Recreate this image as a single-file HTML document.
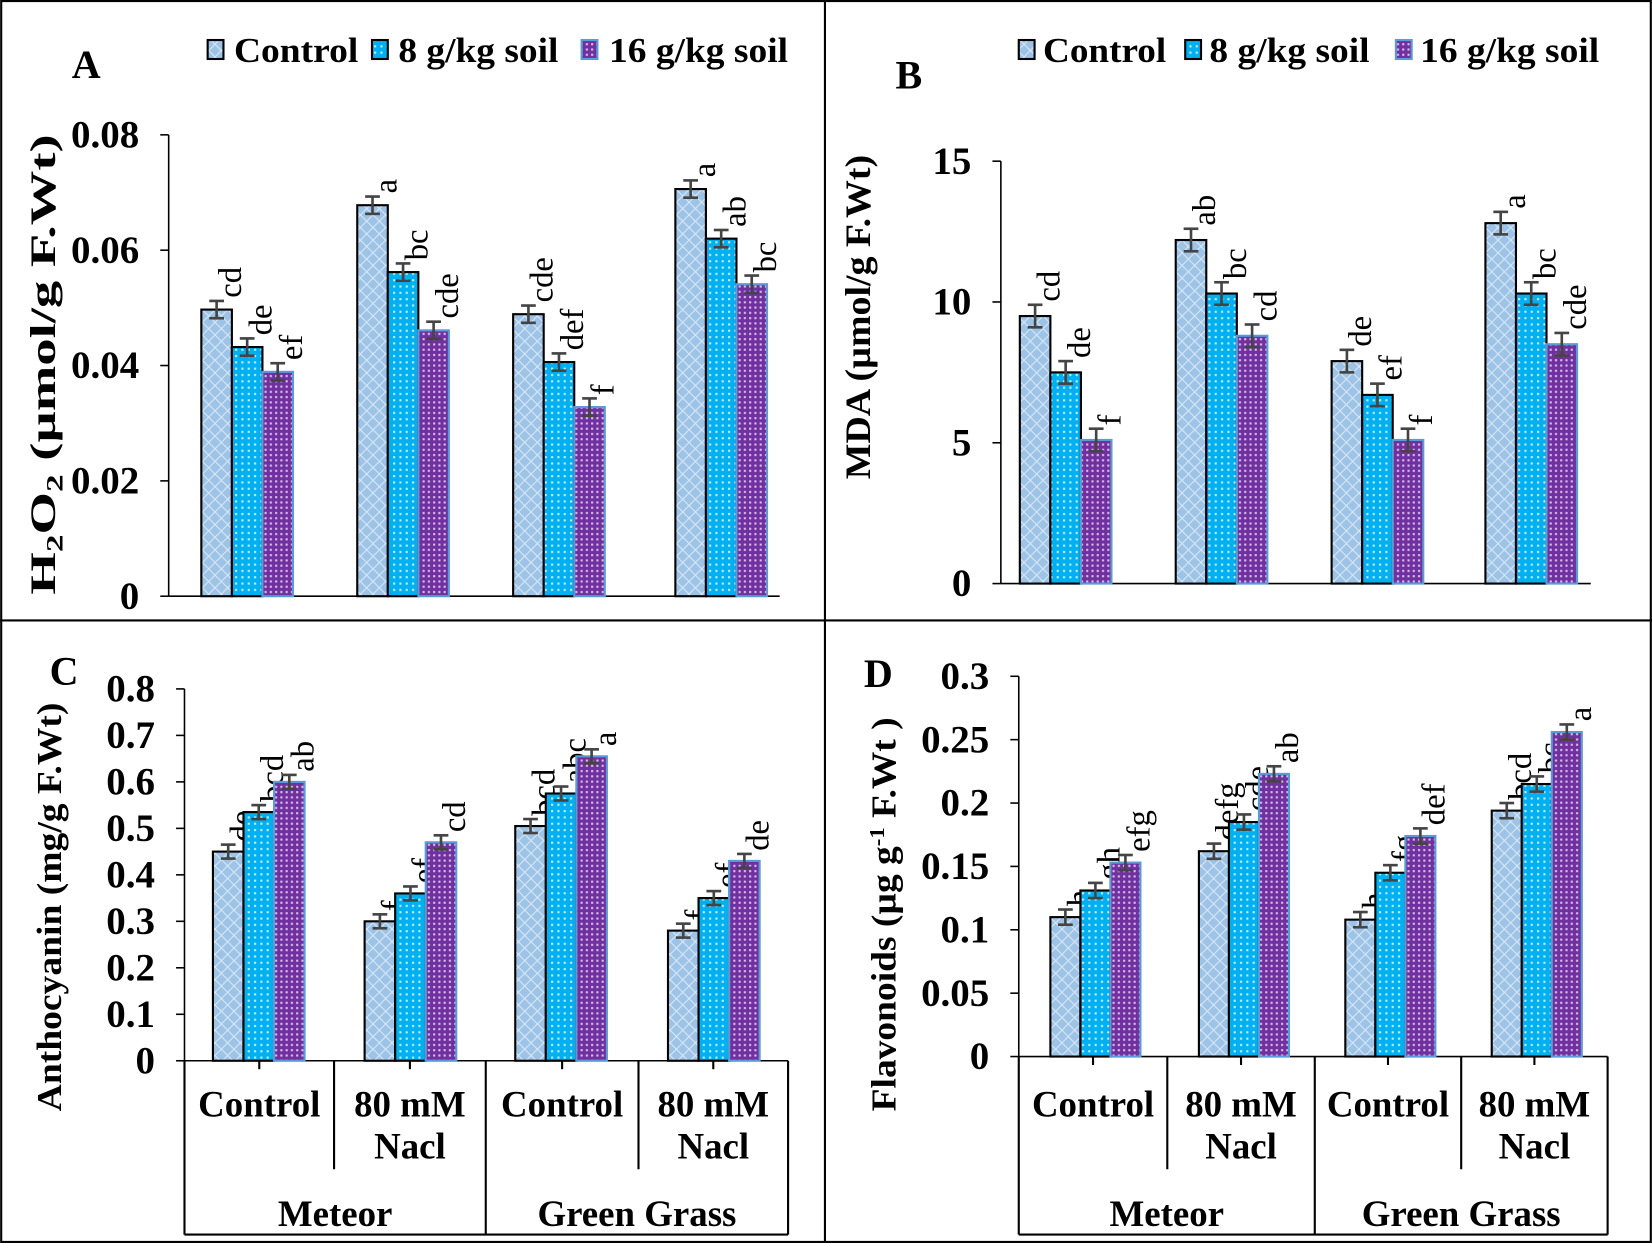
<!DOCTYPE html>
<html><head><meta charset="utf-8"><style>
html,body{margin:0;padding:0;background:#fff}
svg{display:block}
text{font-family:"Liberation Serif",serif}
</style></head><body>
<svg id="s" width="1652" height="1243" viewBox="0 0 1568 1180" xmlns="http://www.w3.org/2000/svg">
<defs>
<pattern id="pc" width="12" height="12" patternUnits="userSpaceOnUse">
<rect width="12" height="12" fill="#9dc3e6"/>
<path d="M0 6L6 0L12 6L6 12Z" fill="none" stroke="#dbe9f6" stroke-width="1"/>
</pattern>
<pattern id="p8" width="6" height="6" patternUnits="userSpaceOnUse">
<rect width="6" height="6" fill="#00b0f0"/>
<rect x="1" y="1" width="2" height="2" fill="#c8eefc"/>
</pattern>
<pattern id="p16" width="5" height="5" patternUnits="userSpaceOnUse">
<rect width="5" height="5" fill="#7030a0"/>
<rect x="1" y="1" width="2" height="2" fill="#d8c0ea"/>
</pattern>
</defs>
<rect x="1" y="1" width="1566" height="1178" fill="none" stroke="#000" stroke-width="2"/>
<line x1="783" y1="0" x2="783" y2="1180" stroke="#000" stroke-width="2"/>
<line x1="0" y1="589" x2="1568" y2="589" stroke="#000" stroke-width="2"/>
<g id="g"></g>
</svg>
<script>
var g=document.getElementById('g'),h='';
function T(x,y,s,sz,w,anc,extra){h+='<text x="'+x+'" y="'+y+'" font-size="'+sz+'" font-weight="'+(w||'bold')+'" text-anchor="'+(anc||'start')+'" '+(extra||'')+'>'+s+'</text>';}
function L(x1,y1,x2,y2,c,w){h+='<line x1="'+x1+'" y1="'+y1+'" x2="'+x2+'" y2="'+y2+'" stroke="'+(c||'#000')+'" stroke-width="'+(w||2)+'"/>';}
function legend(xs,tx,tl){
 var f=['pc','p8','p16'],st=['#000','#000','#5b9bd5'],lab=['Control','8 g/kg soil','16 g/kg soil'];
 for(var i=0;i<3;i++){h+='<rect x="'+xs[i]+'" y="38" width="15" height="18" fill="url(#'+f[i]+')" stroke="'+st[i]+'" stroke-width="2"/>';
 T(tx[i],59,lab[i],33,'bold','start','textLength="'+tl[i]+'" lengthAdjust="spacingAndGlyphs"');}
}
function panel(o){
 var ax=o.ax,y0=o.y0,yt=o.yt,max=o.max,k=(y0-yt)/max;
 L(ax,yt,ax,y0,'#000',1.5);
 for(var i=0;i<o.ticks.length;i++){var v=o.ticks[i],y=y0-v*k;L(ax-8,y,ax,y,'#000',1.5);T(ax-28,y+12,o.tl[i],37,'bold','end');}
 L(ax,y0,o.xe,y0,'#000',1.5);
 var f=['pc','p8','p16'],st=['#000','#000','#5b9bd5'];
 for(var gi=0;gi<4;gi++){for(var b=0;b<3;b++){
  var x=o.gx[gi]+b*o.bw,v=o.v[gi][b],y=y0-v*k,e=o.e*k;
  h+='<rect x="'+x+'" y="'+y+'" width="'+o.bw+'" height="'+(y0-y)+'" fill="url(#'+f[b]+')" stroke="'+st[b]+'" stroke-width="2"/>';
  var cx=x+o.bw/2;L(cx,y-e,cx,y+e,'#444',2.5);L(cx-7,y-e,cx+7,y-e,'#444',2.5);L(cx-7,y+e,cx+7,y+e,'#444',2.5);
  var tx=cx+23,ty=y-e-3;
  h+='<text x="'+tx+'" y="'+ty+'" font-size="31" transform="rotate(-90 '+tx+' '+ty+')">'+o.lt[gi][b]+'</text>';
 }}
 if(o.cat){var c=o.cat;
  L(c[0],y0,c[0],1172);L(c[1],y0,c[1],1110);L(c[2],y0,c[2],1172);L(c[3],y0,c[3],1110);L(c[4],y0,c[4],1172);L(c[0],1172,c[4],1172);
  for(var j=0;j<4;j++){var m=(c[j]+c[j+1])/2;L(m,y0,m,y0+8);
   if(j%2==0)T(m,1060,'Control',35,'bold','middle');else{T(m,1060,'80 mM',35,'bold','middle');T(m,1100,'Nacl',35,'bold','middle');}}
  T((c[0]+c[2])/2,1164,'Meteor',35,'bold','middle');T((c[2]+c[4])/2,1164,'Green Grass',35,'bold','middle');
 }
 T(o.lx,o.ly,o.L,38);
 h+='<text x="'+o.tx+'" y="'+o.ty+'" font-size="'+(o.tfs||34)+'" font-weight="bold" text-anchor="middle" textLength="'+o.tlen+'" lengthAdjust="spacingAndGlyphs" transform="rotate(-90 '+o.tx+' '+o.ty+')">'+o.title+'</text>';
}
legend([197,353,552],[222,378,578],[118,152,170]);
legend([967,1125,1325],[990,1148,1348],[117,152,170]);
panel({ax:160,y0:566,yt:128,max:0.08,ticks:[0,0.02,0.04,0.06,0.08],tl:['0','0.02','0.04','0.06','0.08'],xe:740,
 gx:[191,339,487,641],bw:29,e:0.0015,
 v:[[0.0497,0.0432,0.0389],[0.0678,0.0562,0.0461],[0.0489,0.0406,0.0328],[0.0706,0.062,0.0541]],
 lt:[['cd','de','ef'],['a','bc','cde'],['cde','def','f'],['a','ab','bc']],
 lx:68,ly:74,L:'A',tx:52,ty:346,tlen:437,title:'H<tspan font-size="22" dy="7">2</tspan><tspan dy="-7">O</tspan><tspan font-size="22" dy="7">2</tspan><tspan dy="-7"> (µmol/g F.Wt)</tspan>'});
panel({ax:950,y0:554,yt:153,max:15,ticks:[0,5,10,15],tl:['0','5','10','15'],xe:1510,
 gx:[968,1116,1264,1410],bw:29,e:0.4,
 v:[[9.5,7.5,5.1],[12.2,10.3,8.8],[7.9,6.7,5.1],[12.8,10.3,8.5]],
 lt:[['cd','de','f'],['ab','bc','cd'],['de','ef','f'],['a','bc','cde']],
 lx:850,ly:84,L:'B',tx:826,ty:301,tlen:308,title:'MDA (µmol/g F.Wt)'});
panel({ax:175,y0:1007,yt:654,max:0.8,ticks:[0,0.1,0.2,0.3,0.4,0.5,0.6,0.7,0.8],tl:['0','0.1','0.2','0.3','0.4','0.5','0.6','0.7','0.8'],xe:748,
 gx:[202,346,489,634],bw:29,e:0.015,
 v:[[0.45,0.535,0.60],[0.30,0.36,0.47],[0.505,0.575,0.655],[0.28,0.35,0.43]],
 lt:[['de','bcd','ab'],['f','ef','cd'],['bcd','abc','a'],['f','ef','de']],
 cat:[175,317,461,606,748],
 lx:47,ly:650,L:'C',tx:58,ty:861,tlen:388,tfs:33,title:'Anthocyanin (mg/g F.Wt)'});
panel({ax:967,y0:1003,yt:642,max:0.3,ticks:[0,0.05,0.1,0.15,0.2,0.25,0.3],tl:['0','0.05','0.1','0.15','0.2','0.25','0.3'],xe:1526,
 gx:[997,1138,1277,1416],bw:28.5,e:0.006,
 v:[[0.11,0.131,0.153],[0.162,0.185,0.223],[0.108,0.145,0.174],[0.194,0.215,0.256]],
 lt:[['h','gh','efg'],['defg','cde','ab'],['h','fg','def'],['bcd','bc','a']],
 cat:[967,1108,1248,1387,1526],
 lx:820,ly:652,L:'D',tx:850,ty:868,tlen:374,tfs:33,title:'Flavonoids (µg g<tspan font-size="20" dy="-11">-1</tspan><tspan dy="11"> F.Wt )</tspan>'});
g.innerHTML=h;
</script>
</body></html>
